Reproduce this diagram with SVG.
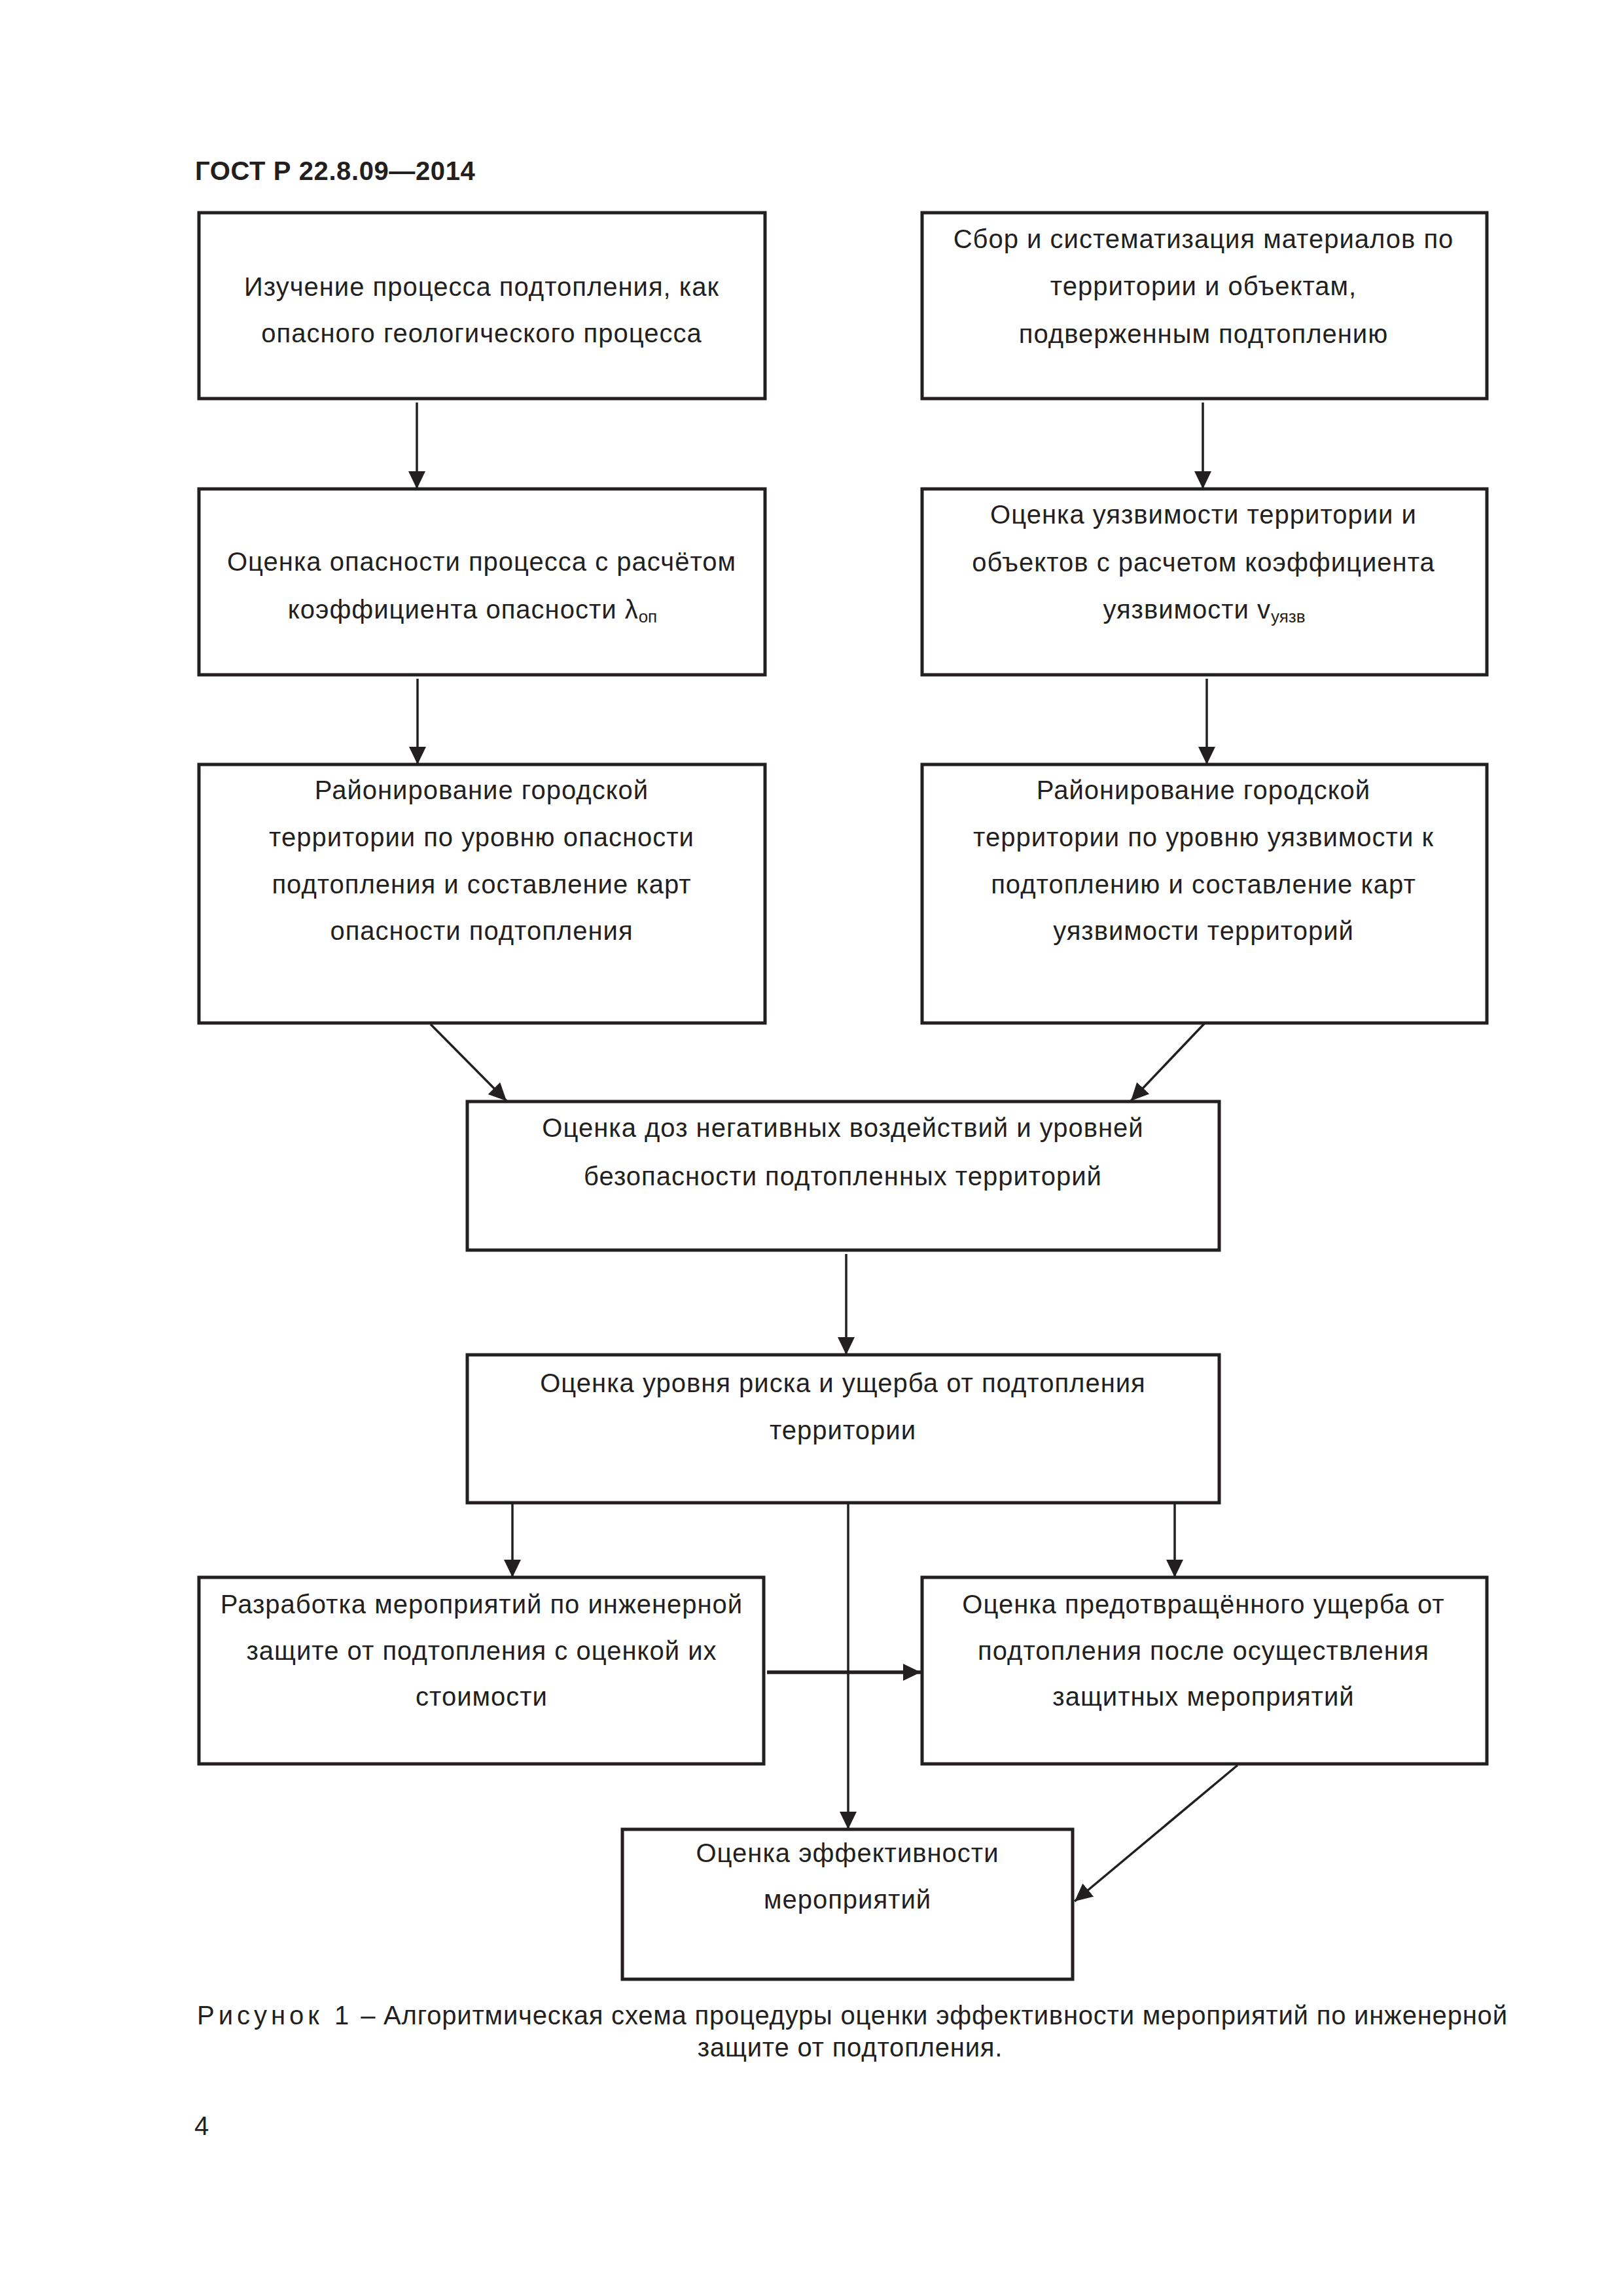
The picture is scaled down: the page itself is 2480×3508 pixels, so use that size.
<svg xmlns="http://www.w3.org/2000/svg" width="2480" height="3508" viewBox="0 0 2480 3508">
<style>
.bg{fill:#ffffff}
.box{fill:#ffffff;stroke:#231f20;stroke-width:5}
.t{font-family:"Liberation Sans",Arial,sans-serif;font-size:40px;letter-spacing:1px;fill:#231f20;text-anchor:middle}
.sub{font-size:26px;letter-spacing:0}
.hdr{font-family:"Liberation Sans",Arial,sans-serif;font-size:40px;font-weight:bold;fill:#231f20;letter-spacing:0.6px}
.cap{font-family:"Liberation Sans",Arial,sans-serif;font-size:40px;fill:#231f20;letter-spacing:0.8px}
.ln{fill:none;stroke:#231f20;stroke-width:3.5;marker-end:url(#ah)}
.lnb{fill:none;stroke:#231f20;stroke-width:5.5;marker-end:url(#ah)}
</style>
<defs>
<marker id="ah" markerUnits="userSpaceOnUse" markerWidth="30" markerHeight="28" refX="27" refY="13" orient="auto">
<path d="M0,0 L27,13 L0,26 Z" fill="#231f20"/>
</marker>
</defs>
<rect class="bg" x="0" y="0" width="2480" height="3508"/>
<text class="hdr" x="298" y="275">ГОСТ Р 22.8.09—2014</text>

<g id="connectors">
<line class="ln" x1="637" y1="615" x2="637" y2="747"/>
<line class="ln" x1="1838" y1="615" x2="1838" y2="747"/>
<line class="ln" x1="638" y1="1037" x2="638" y2="1168"/>
<line class="ln" x1="1844" y1="1037" x2="1844" y2="1168"/>
<line class="ln" x1="658" y1="1565" x2="774" y2="1682"/>
<line class="ln" x1="1844" y1="1560" x2="1728" y2="1682"/>
<line class="ln" x1="1293" y1="1916" x2="1293" y2="2070"/>
<line class="ln" x1="783" y1="2296" x2="783" y2="2410"/>
<line class="ln" x1="1296" y1="2296" x2="1296" y2="2795"/>
<line class="ln" x1="1795" y1="2296" x2="1795" y2="2410"/>
<line class="lnb" x1="1172" y1="2555" x2="1407" y2="2555"/>
<line class="ln" x1="1891" y1="2697" x2="1642" y2="2905"/>
</g>

<g id="nodeA">
<rect class="box" x="304" y="325" width="865" height="284"/>
<text class="t" x="736" y="452">Изучение процесса подтопления, как</text>
<text class="t" x="736" y="523">опасного геологического процесса</text>
</g>
<g id="nodeB">
<rect class="box" x="1409" y="325" width="863" height="284"/>
<text class="t" x="1839" y="379">Сбор и систематизация материалов по</text>
<text class="t" x="1839" y="451">территории и объектам,</text>
<text class="t" x="1839" y="524">подверженным подтоплению</text>
</g>
<g id="nodeC">
<rect class="box" x="304" y="747" width="865" height="284"/>
<text class="t" x="736" y="872">Оценка опасности процесса с расчётом</text>
<text class="t" x="722" y="945">коэффициента опасности λ<tspan class="sub" dy="6">оп</tspan></text>
</g>
<g id="nodeD">
<rect class="box" x="1409" y="747" width="863" height="284"/>
<text class="t" x="1839" y="800">Оценка уязвимости территории и</text>
<text class="t" x="1839" y="873">объектов с расчетом коэффициента</text>
<text class="t" x="1840" y="945">уязвимости v<tspan class="sub" dy="6">уязв</tspan></text>
</g>
<g id="nodeE">
<rect class="box" x="304" y="1168" width="865" height="395"/>
<text class="t" x="736" y="1221">Районирование городской</text>
<text class="t" x="736" y="1293">территории по уровню опасности</text>
<text class="t" x="736" y="1365">подтопления и составление карт</text>
<text class="t" x="736" y="1436">опасности подтопления</text>
</g>
<g id="nodeF">
<rect class="box" x="1409" y="1168" width="863" height="395"/>
<text class="t" x="1839" y="1221">Районирование городской</text>
<text class="t" x="1839" y="1293">территории по уровню уязвимости к</text>
<text class="t" x="1839" y="1365">подтоплению и составление карт</text>
<text class="t" x="1839" y="1436">уязвимости территорий</text>
</g>
<g id="nodeG">
<rect class="box" x="714" y="1683" width="1149" height="227"/>
<text class="t" x="1288" y="1737">Оценка доз негативных воздействий и уровней</text>
<text class="t" x="1288" y="1811">безопасности подтопленных территорий</text>
</g>
<g id="nodeH">
<rect class="box" x="714" y="2070" width="1149" height="226"/>
<text class="t" x="1288" y="2127">Оценка уровня риска и ущерба от подтопления</text>
<text class="t" x="1288" y="2199">территории</text>
</g>
<g id="nodeI">
<rect class="box" x="304" y="2410" width="863" height="285"/>
<text class="t" x="736" y="2465">Разработка мероприятий по инженерной</text>
<text class="t" x="736" y="2536">защите от подтопления с оценкой их</text>
<text class="t" x="736" y="2606">стоимости</text>
</g>
<g id="nodeJ">
<rect class="box" x="1409" y="2410" width="863" height="285"/>
<text class="t" x="1839" y="2465">Оценка предотвращённого ущерба от</text>
<text class="t" x="1839" y="2536">подтопления после осуществления</text>
<text class="t" x="1839" y="2606">защитных мероприятий</text>
</g>
<g id="nodeK">
<rect class="box" x="951" y="2795" width="688" height="229"/>
<text class="t" x="1295" y="2845">Оценка эффективности</text>
<text class="t" x="1295" y="2916">мероприятий</text>
</g>

<text class="cap" x="301" y="3093"><tspan letter-spacing="6px">Рисунок 1</tspan> – Алгоритмическая схема процедуры оценки эффективности мероприятий по инженерной</text>
<text class="cap" x="1299" y="3142" text-anchor="middle">защите от подтопления.</text>
<text class="cap" x="297" y="3262">4</text>
</svg>
